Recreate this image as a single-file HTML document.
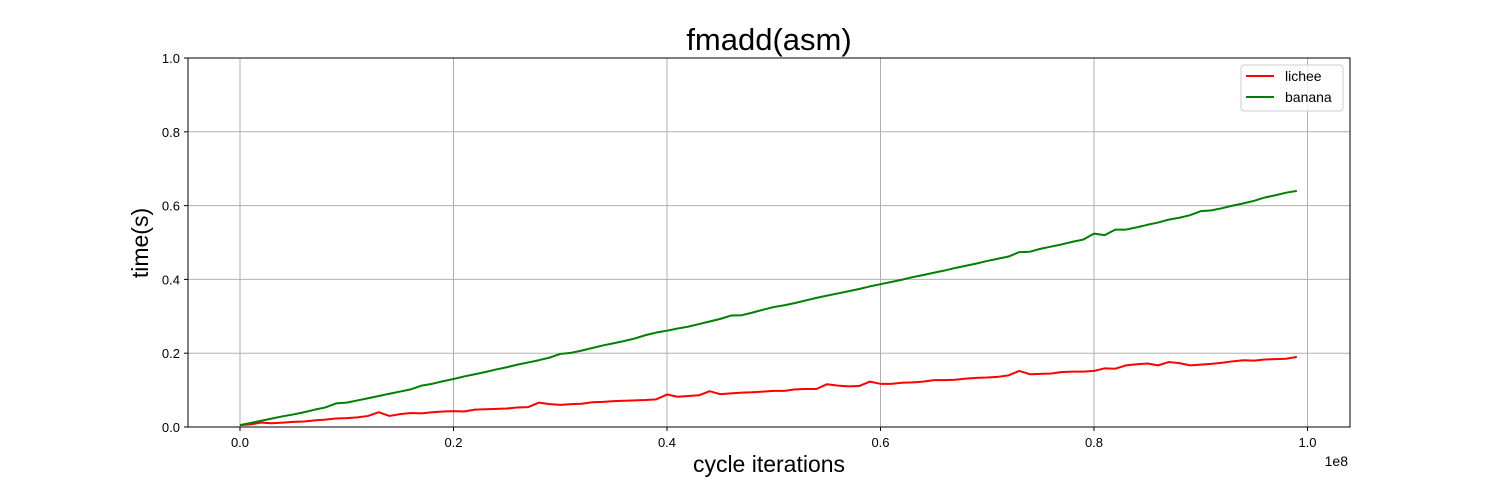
<!DOCTYPE html>
<html><head><meta charset="utf-8"><style>
body{margin:0;background:#fff;}
svg text{font-family:"Liberation Sans","DejaVu Sans",sans-serif;}
</style></head><body>
<svg id="chart" width="1500" height="480" xmlns="http://www.w3.org/2000/svg">
<rect width="1500" height="480" fill="#fff"/>
<g id="grid"></g>
<g id="series"></g>
<rect x="188" y="58" width="1162" height="369" fill="none" stroke="#000" stroke-width="1"/>
<g id="ticks"></g>
<text x="769" y="50" font-size="31" text-anchor="middle">fmadd(asm)</text>
<text x="769" y="472" font-size="23" text-anchor="middle">cycle iterations</text>
<text transform="translate(148,243) rotate(-90)" font-size="23" text-anchor="middle">time(s)</text>
<text x="1348" y="466" font-size="14" text-anchor="end">1e8</text>
<g>
<rect x="1241" y="65" width="102" height="46" rx="3" fill="#fff" fill-opacity="0.8" stroke="#ccc"/>
<line x1="1246" y1="76" x2="1274" y2="76" stroke="#ff0000" stroke-width="2"/>
<text x="1285" y="81" font-size="14">lichee</text>
<line x1="1246" y1="97" x2="1274" y2="97" stroke="#008000" stroke-width="2"/>
<text x="1285" y="102" font-size="14">banana</text>
</g>
</svg>
<script>
const xTicks=[0,0.2,0.4,0.6,0.8,1.0];
const xTickLabels=["0.0","0.2","0.4","0.6","0.8","1.0"];
const yTicks=[0,0.2,0.4,0.6,0.8,1.0];
const yTickLabels=["0.0","0.2","0.4","0.6","0.8","1.0"];
const lichee=[0.005,0.007,0.012,0.010,0.012,0.014,0.015,0.018,0.020,0.023,0.024,0.026,0.030,0.040,0.030,0.035,0.038,0.037,0.040,0.042,0.043,0.042,0.047,0.048,0.049,0.050,0.053,0.054,0.066,0.062,0.060,0.062,0.063,0.067,0.068,0.070,0.071,0.072,0.073,0.075,0.088,0.082,0.084,0.086,0.097,0.089,0.091,0.093,0.094,0.096,0.098,0.098,0.102,0.103,0.103,0.116,0.112,0.110,0.111,0.123,0.117,0.117,0.120,0.121,0.123,0.127,0.127,0.128,0.131,0.133,0.134,0.136,0.140,0.152,0.143,0.144,0.145,0.149,0.150,0.150,0.152,0.159,0.158,0.167,0.170,0.172,0.167,0.176,0.173,0.167,0.169,0.171,0.174,0.178,0.181,0.180,0.183,0.184,0.185,0.190];
const banana=[0.005,0.011,0.017,0.023,0.029,0.034,0.040,0.047,0.053,0.064,0.066,0.072,0.078,0.084,0.090,0.096,0.102,0.112,0.117,0.124,0.130,0.137,0.143,0.149,0.156,0.162,0.169,0.175,0.181,0.188,0.198,0.201,0.207,0.214,0.221,0.227,0.233,0.240,0.249,0.256,0.261,0.267,0.272,0.279,0.286,0.293,0.302,0.303,0.310,0.318,0.325,0.330,0.336,0.343,0.350,0.356,0.362,0.368,0.374,0.381,0.387,0.393,0.399,0.406,0.412,0.418,0.424,0.431,0.437,0.443,0.450,0.456,0.462,0.474,0.475,0.483,0.489,0.495,0.502,0.508,0.524,0.520,0.535,0.535,0.541,0.548,0.554,0.562,0.567,0.574,0.585,0.587,0.593,0.600,0.606,0.613,0.622,0.628,0.635,0.640];
const NS="http://www.w3.org/2000/svg";
function xs(v){return 240+v/0.2*213.5;}      // v in units of 1e8
function ys(v){return 427-v*369;}
function mk(tag,attrs,parent){const e=document.createElementNS(NS,tag);for(const k in attrs)e.setAttribute(k,attrs[k]);parent.appendChild(e);return e;}
const grid=document.getElementById('grid'),ticks=document.getElementById('ticks'),series=document.getElementById('series');
xTicks.forEach((t,i)=>{
  const x=xs(t);
  const g=mk('line',{x1:x,x2:x,y1:58,y2:427,stroke:'#b0b0b0','stroke-width':1},grid);
  
  
  mk('line',{x1:x,x2:x,y1:427,y2:431,stroke:'#000'},ticks);
  const tx=mk('text',{x:x,y:447,'font-size':13,'text-anchor':'middle'},ticks);
  tx.textContent=xTickLabels[i];
  
  
});
yTicks.forEach((t,i)=>{
  const y=ys(t);
  const g=mk('line',{x1:188,x2:1350,y1:y,y2:y,stroke:'#b0b0b0','stroke-width':1},grid);
  
  
  mk('line',{x1:184,x2:188,y1:y,y2:y,stroke:'#000'},ticks);
  const tx=mk('text',{x:180,y:y+5,'font-size':13,'text-anchor':'end'},ticks);
  tx.textContent=yTickLabels[i];
  
  
});
function line(data,color,name){
  const pts=data.map((v,i)=>xs(i*0.01).toFixed(2)+','+ys(v).toFixed(2)).join(' ');
  const p=mk('polyline',{points:pts,fill:'none',stroke:color,'stroke-width':2,'stroke-linejoin':'round'},series);
  
  
}
line(lichee,'#ff0000','lichee-line');
line(banana,'#008000','banana-line');
</script>
</body></html>
